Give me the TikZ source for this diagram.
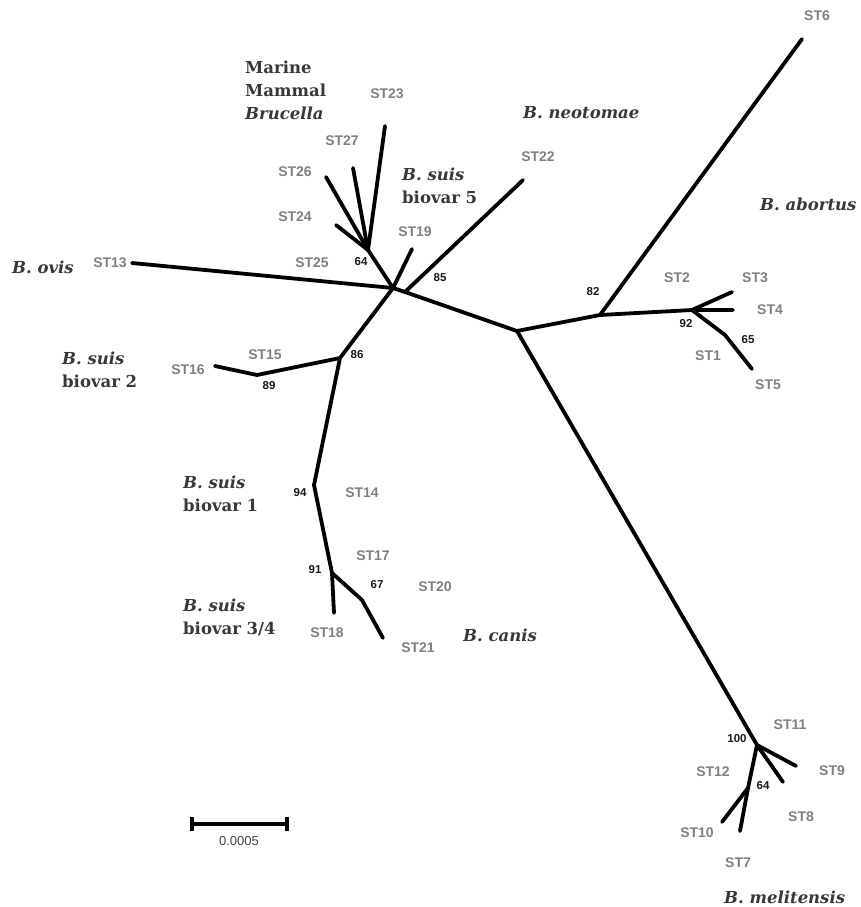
\documentclass[tikz,border=0pt]{standalone}
\usepackage{fontspec}
\setmainfont{DejaVu Serif}
\newfontfamily\stfont{Liberation Sans}
\definecolor{stgray}{HTML}{808080}
\definecolor{spgray}{HTML}{383838}
\begin{document}
\begin{tikzpicture}[x=1pt,y=-1pt,
  br/.style={line width=3.8pt, line cap=round, line join=round},
  st/.style={font=\stfont\bfseries\fontsize{14}{14}\selectfont, text=stgray, inner sep=0pt},
  bs/.style={font=\stfont\bfseries\fontsize{11.5}{11.5}\selectfont, text=black!90, inner sep=0pt},
  sp/.style={font=\bfseries\fontsize{16.5}{23}\selectfont, text=spgray, inner sep=0pt, anchor=west, align=left}]
\useasboundingbox (0,0) rectangle (860,907);
% tree coordinates
\coordinate (H1) at (393,288);
\coordinate (H2) at (517,331);
\coordinate (N85) at (405,292);
\coordinate (N82) at (600,315);
\coordinate (e6) at (802,39);
\coordinate (N92) at (692,310);
\coordinate (e4) at (733,310);
\coordinate (e3) at (732,292);
\coordinate (N65) at (725,335);
\coordinate (e5) at (752,369);
\coordinate (N64) at (368,250);
\coordinate (e23) at (385,126);
\coordinate (e27) at (353,168);
\coordinate (e26) at (326,177);
\coordinate (e24) at (336,225);
\coordinate (e19) at (412,249);
\coordinate (e22) at (523,180);
\coordinate (e13) at (132,263);
\coordinate (N86) at (340,358);
\coordinate (N89) at (257,375);
\coordinate (e16) at (215,366);
\coordinate (N94) at (314,485);
\coordinate (N91) at (332,573);
\coordinate (e18) at (334,613);
\coordinate (N67) at (362,600);
\coordinate (e21) at (383,638);
\coordinate (N100) at (757,745);
\coordinate (e9) at (796,766);
\coordinate (e8) at (783,782);
\coordinate (N64b) at (748,788);
\coordinate (e10) at (722,822);
\coordinate (e7) at (740,831);
% branches
\draw[br] (H1) -- (N85) -- (H2) -- (N82) -- (N92) -- (e4);
\draw[br] (N82) -- (e6);
\draw[br] (N92) -- (e3);
\draw[br] (N92) -- (N65) -- (e5);
\draw[br] (H2) -- (N100) -- (N64b) -- (e7);
\draw[br] (N100) -- (e9);
\draw[br] (N100) -- (e8);
\draw[br] (N64b) -- (e10);
\draw[br] (H1) -- (N64) -- (e23);
\draw[br] (N64) -- (e27);
\draw[br] (N64) -- (e26);
\draw[br] (N64) -- (e24);
\draw[br] (H1) -- (e19);
\draw[br] (N85) -- (e22);
\draw[br] (H1) -- (e13);
\draw[br] (H1) -- (N86) -- (N94) -- (N91) -- (e18);
\draw[br] (N86) -- (N89) -- (e16);
\draw[br] (N91) -- (N67) -- (e21);
% ST labels
\node[st] (l6) at (817,16) {ST6};
\node[st] (l2) at (677,278) {ST2};
\node[st] (l3) at (755,278) {ST3};
\node[st] (l4) at (770,310) {ST4};
\node[st] (l1) at (708,356) {ST1};
\node[st] (l5) at (768,385) {ST5};
\node[st] (l23) at (387,94) {ST23};
\node[st] (l27) at (342,141) {ST27};
\node[st] (l26) at (295,172) {ST26};
\node[st] (l24) at (295,217) {ST24};
\node[st] (l25) at (312,263) {ST25};
\node[st] (l19) at (415,232) {ST19};
\node[st] (l22) at (538,157) {ST22};
\node[st] (l13) at (110,263) {ST13};
\node[st] (l15) at (265,355) {ST15};
\node[st] (l16) at (188,370) {ST16};
\node[st] (l14) at (362,493) {ST14};
\node[st] (l17) at (373,556) {ST17};
\node[st] (l20) at (435,587) {ST20};
\node[st] (l18) at (327,633) {ST18};
\node[st] (l21) at (418,648) {ST21};
\node[st] (l11) at (790,725) {ST11};
\node[st] (l12) at (713,772) {ST12};
\node[st] (l9) at (832,771) {ST9};
\node[st] (l8) at (801,817) {ST8};
\node[st] (l10) at (697,833) {ST10};
\node[st] (l7) at (738,863) {ST7};
% bootstrap values
\node[bs] (b82) at (593,292) {82};
\node[bs] (b92) at (686,324) {92};
\node[bs] (b65) at (748,340) {65};
\node[bs] (b64) at (361,262) {64};
\node[bs] (b85) at (440,278) {85};
\node[bs] (b86) at (357,355) {86};
\node[bs] (b89) at (269,386) {89};
\node[bs] (b94) at (300,493) {94};
\node[bs] (b91) at (315,570) {91};
\node[bs] (b67) at (377,585) {67};
\node[bs] (b100) at (737,739) {100};
\node[bs] (b64b) at (763,786) {64};
% species labels
\node[sp] (mm) at (245,90) {Marine\\Mammal\\\textit{Brucella}};
\node[sp] (neo) at (523,113) {\textit{B. neotomae}};
\node[sp] (bs5) at (402,186) {\textit{B. suis}\\biovar 5};
\node[sp] (abo) at (760,204) {\textit{B. abortus}};
\node[sp] (ovis) at (12,267) {\textit{B. ovis}};
\node[sp] (bs2) at (62,370) {\textit{B. suis}\\biovar 2};
\node[sp] (bs1) at (183,494) {\textit{B. suis}\\biovar 1};
\node[sp] (bs34) at (183,617) {\textit{B. suis}\\biovar 3/4};
\node[sp] (can) at (463,635) {\textit{B. canis}};
\node[sp] (mel) at (724,897) {\textit{B. melitensis}};
% scale bar
\coordinate (sbL) at (192,824);
\coordinate (sbR) at (287,824);
\draw[line width=3.4pt] (sbL) -- (sbR);
\draw[line width=3.4pt] ([yshift=-7pt]sbL) -- ([yshift=7pt]sbL);
\draw[line width=3.4pt] ([yshift=-7pt]sbR) -- ([yshift=7pt]sbR);
\node[font=\stfont\fontsize{13}{13}\selectfont, text=black!75, inner sep=0pt] (sbt) at (239,841) {0.0005};
\end{tikzpicture}
\end{document}
